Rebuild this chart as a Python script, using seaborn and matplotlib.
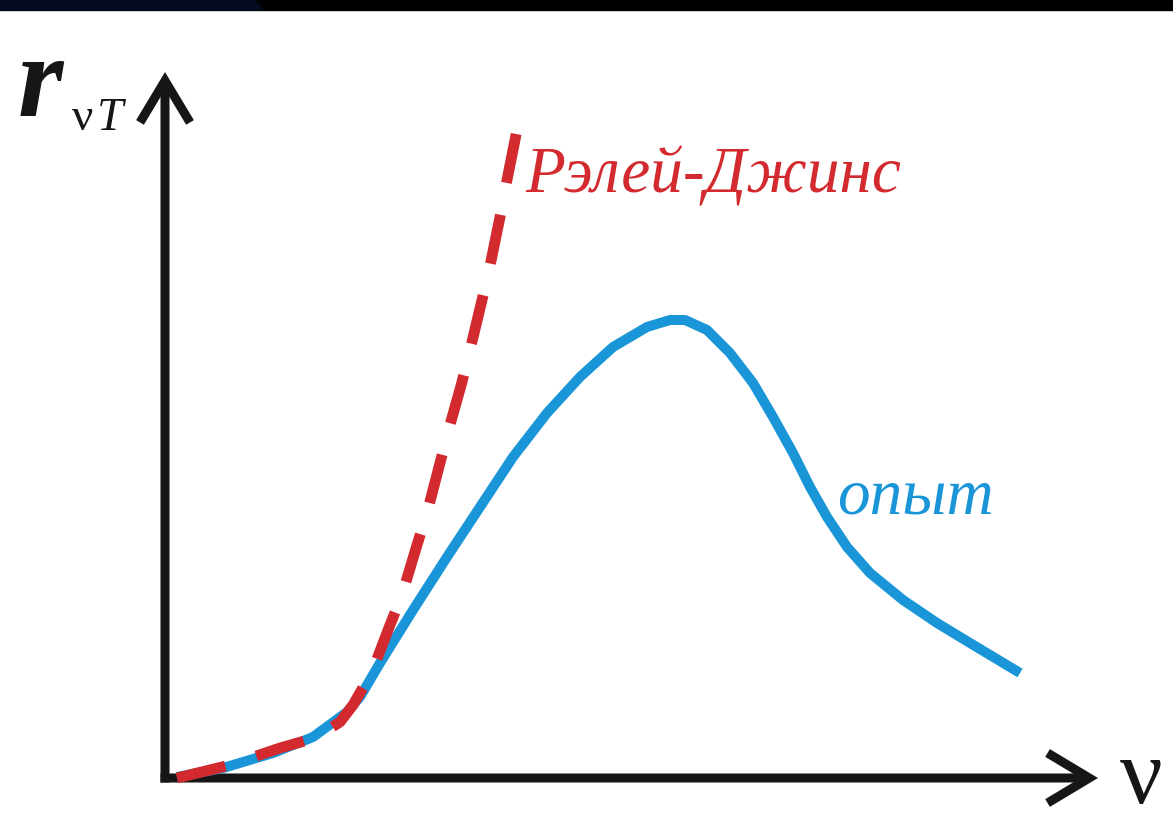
import matplotlib
matplotlib.use("Agg")
import matplotlib.pyplot as plt
import matplotlib.patches as mpatches
import seaborn as sns

nu_exp = [0.12, 0.58, 1.08, 1.48, 1.82, 1.95, 2.15, 2.48, 2.82, 3.15, 3.48, 3.82, 4.15,
          4.48, 4.82, 5.05, 5.20, 5.42, 5.65, 5.88, 6.08, 6.28, 6.45, 6.62, 6.82, 7.05,
          7.38, 7.72, 8.05, 8.55]
r_exp = [0.01, 0.10, 0.25, 0.41, 0.66, 0.81, 1.15, 1.68, 2.21, 2.71, 3.21, 3.65, 4.01,
         4.31, 4.51, 4.58, 4.58, 4.48, 4.25, 3.95, 3.61, 3.25, 2.91, 2.61, 2.31, 2.05,
         1.78, 1.55, 1.35, 1.05]

# Rayleigh-Jeans curve
nu_rj = [0.12, 0.65, 1.15, 1.50, 1.75, 1.88, 2.07, 2.25, 2.37, 2.52, 2.62, 2.75, 2.83,
         2.97, 3.05, 3.17, 3.25, 3.35, 3.42, 3.52]
r_rj = [0.00, 0.13, 0.30, 0.40, 0.56, 0.73, 1.06, 1.53, 1.83, 2.33, 2.65, 3.15, 3.46,
        3.96, 4.28, 4.78, 5.12, 5.61, 5.98, 6.48]

red = "#d22a2e"
blue = "#1a96d8"
ink = "#161616"

sns.set_style("white")
fig = plt.figure(figsize=(11.73, 8.3), dpi=100)
ax = fig.add_axes([0, 0, 1, 1])
ax.set_xlim(-1.65, 10.08)
ax.set_ylim(-0.52, 7.78)
ax.axis("off")

# top dark band
fig.patches.append(mpatches.Rectangle((0, 0.988), 1, 0.012, transform=fig.transFigure,
                                      color="black", zorder=0))
fig.patches.append(mpatches.Polygon([(0, 0.988), (0.224, 0.988), (0.217, 1), (0, 1)],
                                    closed=True, transform=fig.transFigure,
                                    color="#040b1e", zorder=1))

sns.lineplot(x=nu_exp, y=r_exp, sort=False, estimator=None, ax=ax, color=blue, lw=7.2,
             solid_capstyle="butt", zorder=3)
sns.lineplot(x=nu_rj, y=r_rj, sort=False, estimator=None, ax=ax, color=red, lw=7.8,
             zorder=4)
ax.lines[-1].set_dashes([4.6, 3.0])
ax.lines[-1].set_dash_capstyle("butt")

# axes with arrows
arr = dict(arrowstyle="->,head_length=0.75,head_width=0.45", lw=6.5, color=ink,
           mutation_scale=40, shrinkA=0, shrinkB=0, joinstyle="miter", capstyle="butt")
ax.annotate("", xy=(0, 7.06), xytext=(0, -0.045), arrowprops=arr, zorder=2)
ax.annotate("", xy=(9.33, 0), xytext=(-0.045, 0), arrowprops=arr, zorder=2)

# axis labels
ax.text(-1.47, 6.62, "r", fontsize=84, color=ink, style="italic", weight="bold",
        family="Liberation Serif", ha="left", va="baseline")
ax.text(-0.93, 6.48, "ν", fontsize=34, color=ink, family="Liberation Serif",
        ha="left", va="baseline")
ax.text(-0.68, 6.48, "T", fontsize=34, color=ink, style="italic",
        family="Liberation Serif", ha="left", va="baseline")
ax.text(9.55, -0.25, "ν", fontsize=68, color=ink, family="Liberation Serif",
        ha="left", va="baseline")

ax.text(3.6, 5.86, "Рэлей-Джинс", fontsize=47, color=red, style="italic",
        family="Liberation Serif", ha="left", va="baseline")
ax.text(6.72, 2.65, "опыт", fontsize=47, color=blue, style="italic",
        family="Liberation Serif", ha="left", va="baseline")

plt.savefig("out.png", dpi=100)
